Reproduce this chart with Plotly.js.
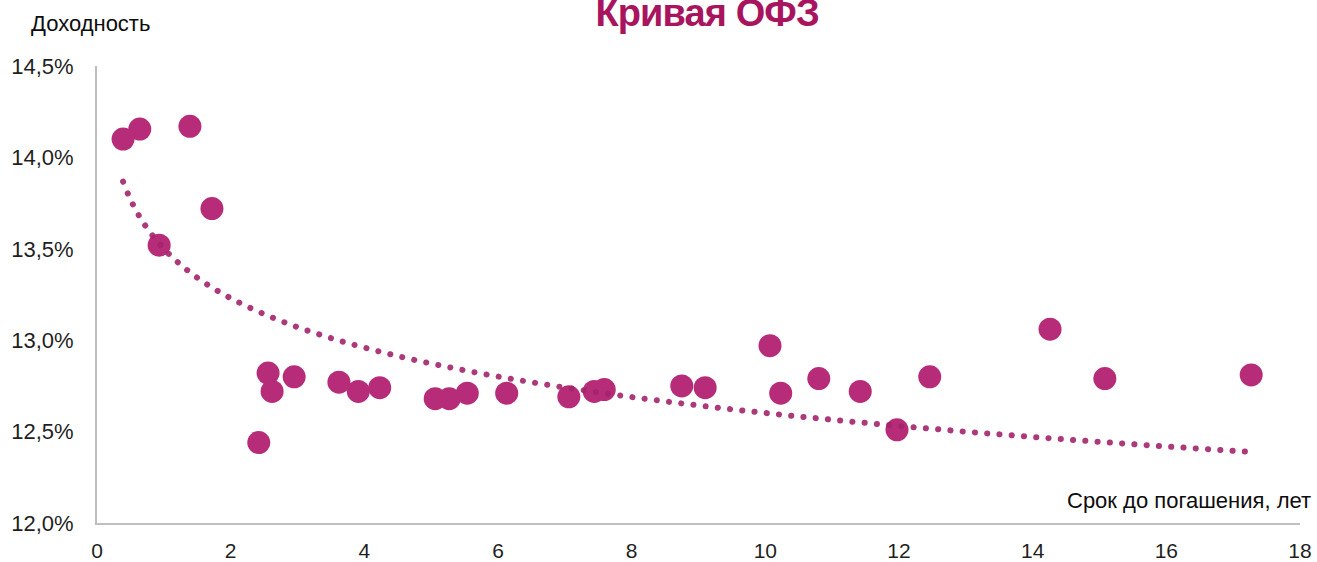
<!DOCTYPE html>
<html>
<head>
<meta charset="utf-8">
<script src="https://cdn.plot.ly/plotly-3.0.1.min.js"></script>
<style>
  html, body { margin: 0; padding: 0; background: #fff; }
  #chart { width: 1317px; height: 562px; }
  .trend .js-line { stroke-linecap: round !important; }
  .title-ann text { letter-spacing: -0.9px; }
</style>
</head>
<body>
<div id="chart"></div>
<script>
// Срок до погашения, лет
const maturity = [0.39, 0.64, 1.39, 1.72, 0.93, 2.56, 2.62, 2.42, 2.95, 3.62,
                  3.91, 4.23, 5.06, 5.27, 5.54, 6.13, 7.06, 7.44, 7.59, 8.75,
                  9.10, 10.07, 10.23, 10.80, 11.42, 11.97, 12.46, 14.26, 15.08, 17.27];
// Доходность, %
const yieldPct = [14.10, 14.155, 14.17, 13.72, 13.52, 12.82, 12.72, 12.44, 12.80, 12.77,
                  12.72, 12.74, 12.68, 12.68, 12.71, 12.71, 12.69, 12.72, 12.73, 12.75,
                  12.74, 12.97, 12.71, 12.79, 12.72, 12.51, 12.80, 13.06, 12.79, 12.81];
const xTicks = [0, 2, 4, 6, 8, 10, 12, 14, 16, 18];
const yTicks = [12.0, 12.5, 13.0, 13.5, 14.0, 14.5];

// Logarithmic trendline y = a + b*ln(x), coefficients
const trendA = 13.50;
const trendB = -0.390;

const xMin = Math.min(...maturity), xMax = Math.max(...maturity);
const trendX = [], trendY = [];
for (let k = 0; k <= 200; k++) {
  const x = xMin + (xMax - xMin) * k / 200;
  trendX.push(x); trendY.push(trendA + trendB * Math.log(x));
}

const W = 1317, H = 562, L = 97, R = 17, T = 66, B = 39;
const pw = W - L - R, ph = H - T - B;
const px = v => (v - L) / pw;
const py = v => (H - B - v) / ph;

const data = [
  {
    x: maturity, y: yieldPct, type: 'scatter', mode: 'markers',
    marker: { size: 23, color: '#B72C78', line: { width: 0 } },
    hoverinfo: 'skip', showlegend: false
  },
  {
    x: trendX, y: trendY, type: 'scatter', mode: 'lines',
    line: { color: '#A3236A', width: 6, dash: '0.1px,12.2px', shape: 'spline' },
    opacity: 0.9,
    hoverinfo: 'skip', showlegend: false
  }
];

const fam = 'Liberation Sans, Arial, sans-serif';
const tickFontY = { family: fam, size: 22, color: '#1f1f1f' };
const tickFontX = { family: fam, size: 21, color: '#1f1f1f' };

const layout = {
  width: W, height: H,
  margin: { l: L, r: R, t: T, b: B, pad: 0 },
  paper_bgcolor: '#ffffff', plot_bgcolor: '#ffffff',
  showlegend: false,
  xaxis: {
    range: [0, 18], tickvals: xTicks, ticktext: xTicks.map(String),
    showgrid: false, zeroline: false, showline: true,
    linecolor: '#BFBFBF', linewidth: 2, ticks: '',
    tickfont: tickFontX, ticklabelstandoff: 8, fixedrange: true
  },
  yaxis: {
    range: [12, 14.5], tickvals: yTicks,
    ticktext: yTicks.map(v => v.toFixed(1).replace('.', ',') + '%'),
    showgrid: false, zeroline: false, showline: true,
    linecolor: '#BFBFBF', linewidth: 2, ticks: '',
    tickfont: tickFontY, ticklabelstandoff: 17, fixedrange: true
  },
  annotations: [
    {
      text: '<b>Кривая ОФЗ</b>', xref: 'paper', yref: 'paper',
      x: px(707), y: py(13), xanchor: 'center', yanchor: 'middle',
      showarrow: false,
      font: { family: fam, size: 38, color: '#A8155E' }
    },
    {
      text: 'Доходность', xref: 'paper', yref: 'paper',
      x: px(29), y: py(23), xanchor: 'left', yanchor: 'middle',
      showarrow: false,
      font: { family: fam, size: 22, color: '#0d0d0d' }
    },
    {
      text: 'Срок до погашения, лет', xref: 'paper', yref: 'paper',
      x: px(1313), y: py(500), xanchor: 'right', yanchor: 'middle',
      showarrow: false,
      font: { family: fam, size: 22, color: '#0d0d0d' }
    }
  ]
};

Plotly.newPlot('chart', data, layout, { staticPlot: true, displayModeBar: false }).then(() => {
  document.querySelectorAll('.scatterlayer .trace').forEach((t, i) => {
    if (i === 1) t.classList.add('trend');
  });
  const ann = document.querySelectorAll('.annotation');
  if (ann[0]) ann[0].classList.add('title-ann');
});
</script>
</body>
</html>
